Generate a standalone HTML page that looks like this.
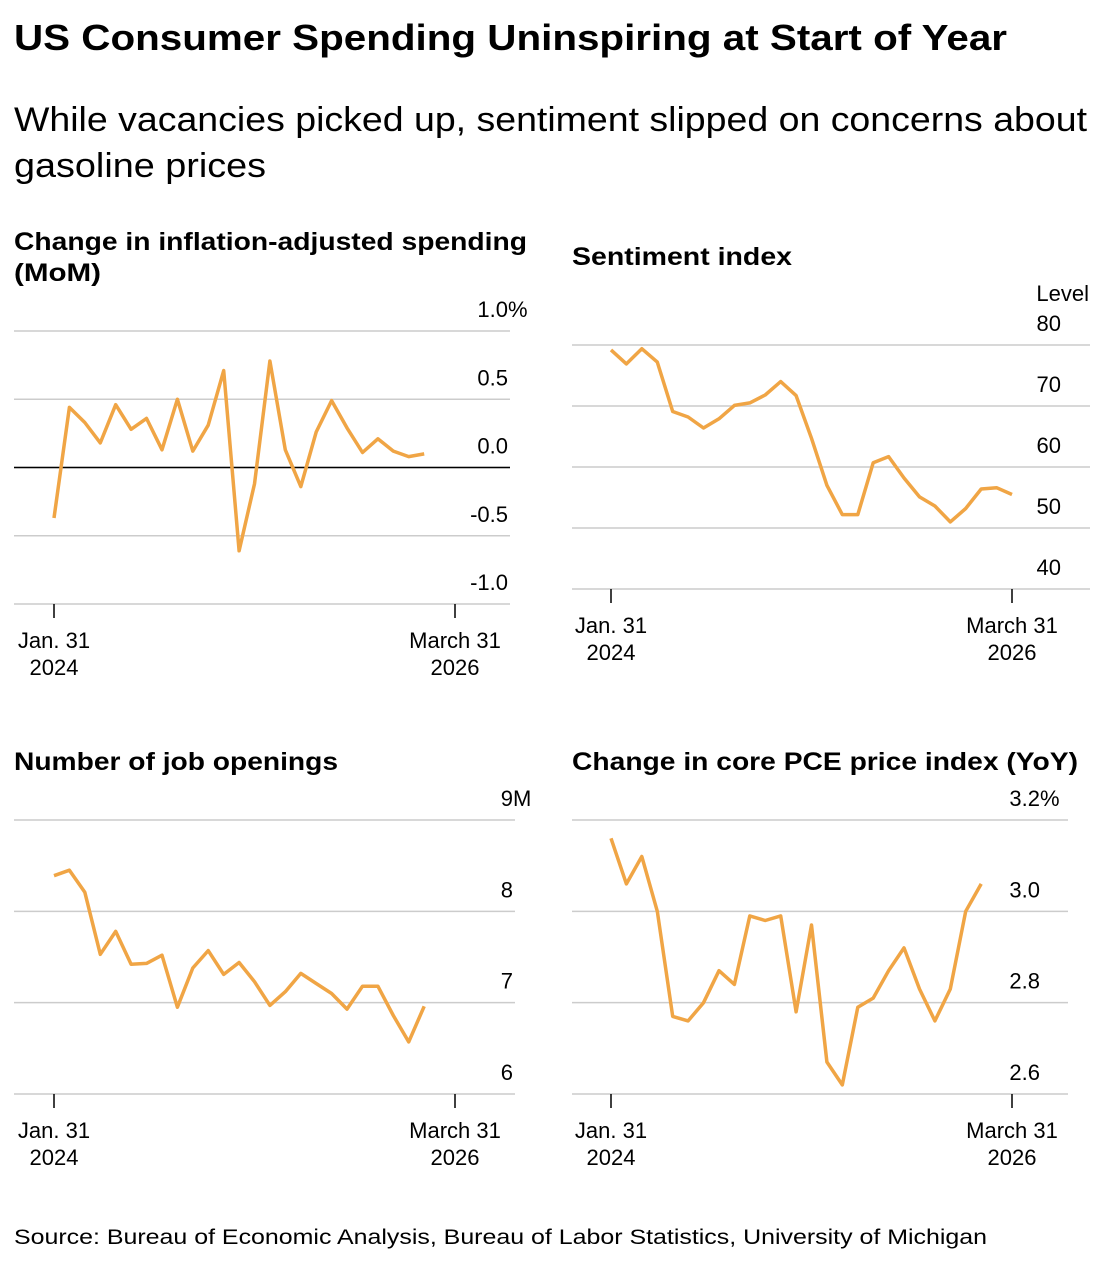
<!DOCTYPE html>
<html><head><meta charset="utf-8">
<style>
body{margin:0;background:#fff;font-family:"Liberation Sans",sans-serif;color:#000}
svg text{font-family:"Liberation Sans",sans-serif}
</style></head>
<body>
<svg width="1104" height="1260" xmlns="http://www.w3.org/2000/svg" id="root">
<text x="14" y="50" font-size="36" font-weight="bold" textLength="993" lengthAdjust="spacingAndGlyphs">US Consumer Spending Uninspiring at Start of Year</text>
<text x="14" y="131" font-size="34" textLength="1073" lengthAdjust="spacingAndGlyphs">While vacancies picked up, sentiment slipped on concerns about</text>
<text x="14" y="177" font-size="34" textLength="252" lengthAdjust="spacingAndGlyphs">gasoline prices</text>
<text x="14" y="250" font-size="25" font-weight="bold" textLength="513" lengthAdjust="spacingAndGlyphs">Change in inflation-adjusted spending</text>
<text x="14" y="281" font-size="25" font-weight="bold" textLength="87" lengthAdjust="spacingAndGlyphs">(MoM)</text>
<text x="572" y="265" font-size="25" font-weight="bold" textLength="220" lengthAdjust="spacingAndGlyphs">Sentiment index</text>
<text x="1089" y="301" font-size="22" text-anchor="end">Level</text>
<text x="14" y="770" font-size="25" font-weight="bold" textLength="324" lengthAdjust="spacingAndGlyphs">Number of job openings</text>
<text x="572" y="770" font-size="25" font-weight="bold" textLength="506" lengthAdjust="spacingAndGlyphs">Change in core PCE price index (YoY)</text>
<text x="14" y="1244" font-size="21" textLength="973" lengthAdjust="spacingAndGlyphs">Source: Bureau of Economic Analysis, Bureau of Labor Statistics, University of Michigan</text>
</svg>
<script>
const spendValues=[-0.37,0.44,0.33,0.18,0.46,0.28,0.36,0.13,0.5,0.12,0.31,0.71,-0.61,-0.12,0.78,0.13,-0.14,0.26,0.49,0.29,0.11,0.21,0.12,0.08,0.1];
const spendTicks=[1.0,0.5,0.0,-0.5,-1.0];
const spendLabels=["1.0","0.5","0.0","-0.5","-1.0"];
const sentValues=[79.2,76.9,79.4,77.2,69.1,68.2,66.4,67.9,70.1,70.5,71.8,74.0,71.7,64.7,57.0,52.2,52.2,60.7,61.7,58.2,55.1,53.6,51.0,53.2,56.4,56.6,55.5];
const sentTicks=[80,70,60,50,40];
const sentLabels=["80","70","60","50","40"];
const jobValues=[8.39,8.45,8.21,7.53,7.78,7.42,7.43,7.52,6.95,7.38,7.57,7.31,7.44,7.23,6.97,7.12,7.32,7.21,7.10,6.93,7.18,7.18,6.86,6.57,6.96];
const jobTicks=[9,8,7,6];
const jobLabels=["9","8","7","6"];
const pceValues=[3.16,3.06,3.12,3.00,2.77,2.76,2.80,2.87,2.84,2.99,2.98,2.99,2.78,2.97,2.67,2.62,2.79,2.81,2.87,2.92,2.83,2.76,2.83,3.00,3.06];
const pceTicks=[3.2,3.0,2.8,2.6];
const pceLabels=["3.2","3.0","2.8","2.6"];

const NS="http://www.w3.org/2000/svg";
const root=document.getElementById('root');
function mk(tag,attrs){const e=document.createElementNS(NS,tag);for(const k in attrs)e.setAttribute(k,attrs[k]);root.appendChild(e);return e;}

function panel(cfg){
  const y=v=>cfg.yTop+(cfg.vTop-v)/(cfg.vTop-cfg.vBot)*(cfg.yBot-cfg.yTop);
  const x=i=>cfg.x0+i*(cfg.x1-cfg.x0)/26;
  cfg.ticks.forEach((t,k)=>{
    const l=mk('line',{x1:cfg.gl,x2:cfg.gr,y1:y(t),y2:y(t),stroke:'#ccc','stroke-width':1.5});
    
    
    const tx=mk('text',{x:cfg.lx,y:y(t)-14,'font-size':22,'text-anchor':'end'});
    tx.textContent=cfg.labels[k];
    
    
    if(k===0&&cfg.suffix){
      const s=mk('text',{x:cfg.lx,y:y(t)-14,'font-size':22});
      s.textContent=cfg.suffix;
      
      
    }
  });
  if(cfg.zero){
    const z=mk('line',{x1:cfg.gl,x2:cfg.gr,y1:y(0),y2:y(0),stroke:'#000','stroke-width':1.5});
    
    
  }
  const base=y(cfg.vBot);
  [[0,'Jan. 31','2024'],[26,'March 31','2026']].forEach(([i,a,b])=>{
    const t=mk('line',{x1:x(i),x2:x(i),y1:base,y2:base+14,stroke:'#000','stroke-width':1.5});
    
    
    const t1=mk('text',{x:x(i),y:base+44,'font-size':22,'text-anchor':'middle'});t1.textContent=a;
    
    
    const t2=mk('text',{x:x(i),y:base+71,'font-size':22,'text-anchor':'middle'});t2.textContent=b;
    
    
  });
  const d=cfg.values.map((v,i)=>(i?'L':'M')+x(i).toFixed(1)+','+y(v).toFixed(1)).join('');
  const p=mk('path',{d:d,fill:'none',stroke:'#f0a545','stroke-width':3.5,'stroke-linejoin':'round'});
  
  
}
panel({name:'spending',values:spendValues,ticks:spendTicks,labels:spendLabels,suffix:'%',vTop:1,vBot:-1,yTop:331,yBot:604,x0:54,x1:455,gl:14,gr:510,lx:508,zero:true});
panel({name:'sentiment',values:sentValues,ticks:sentTicks,labels:sentLabels,vTop:80,vBot:40,yTop:345,yBot:589,x0:611,x1:1012,gl:572,gr:1090,lx:1061});
panel({name:'jobs',values:jobValues,ticks:jobTicks,labels:jobLabels,suffix:'M',vTop:9,vBot:6,yTop:820,yBot:1094,x0:54,x1:455,gl:14,gr:515,lx:513});
panel({name:'pce',values:pceValues,ticks:pceTicks,labels:pceLabels,suffix:'%',vTop:3.2,vBot:2.6,yTop:820,yBot:1094,x0:611,x1:1012,gl:572,gr:1068,lx:1040});
</script>
</body></html>
